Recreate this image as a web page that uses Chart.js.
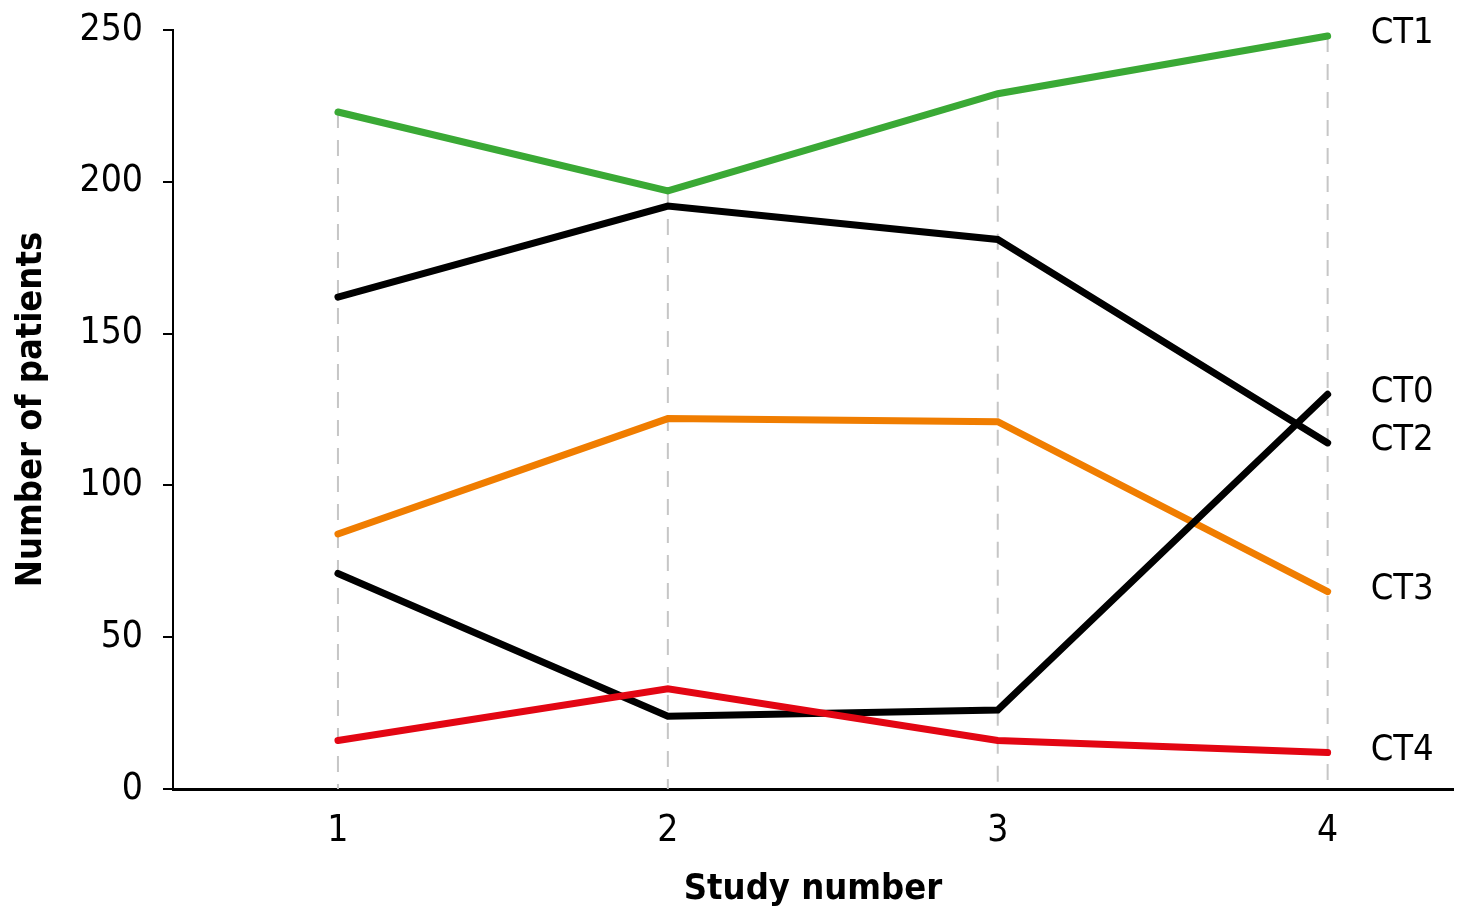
<!DOCTYPE html>
<html>
<head>
<meta charset="utf-8">
<script src="https://cdn.jsdelivr.net/npm/chart.js@4/dist/chart.umd.min.js"></script>
<style>
  html, body { margin: 0; padding: 0; background: #fff; }
  #wrap { width: 1467px; height: 915px; }
</style>
</head>
<body>
<div id="wrap"><canvas id="myChart" width="1467" height="915"></canvas></div>
<script>
const studies = [1, 2, 3, 4];
const yTicks = [0, 50, 100, 150, 200, 250];
const seriesNames = ['CT4', 'CT0', 'CT2', 'CT3', 'CT1'];
const ct1 = [223, 197, 229, 248];
const ct2 = [162, 192, 181, 114];
const ct0 = [71, 24, 26, 130];
const ct3 = [84, 122, 121, 65];
const ct4 = [16, 33, 16, 12];
const seriesColors = ['#e30613', '#000000', '#000000', '#f07d00', '#3aa935'];

const font = '"DejaVu Sans Condensed", "Liberation Sans Narrow", "Noto Sans", sans-serif';
const seriesValues = [ct4, ct0, ct2, ct3, ct1];

function toPoints(values) {
  return values.map((v, i) => ({ x: studies[i], y: v }));
}

// dashed drop line from the highest point of each study down to the axis
const dropLines = {
  id: 'dropLines',
  beforeDatasetsDraw(chart) {
    const { ctx, scales } = chart;
    ctx.save();
    ctx.strokeStyle = '#c6c6c6';
    ctx.lineWidth = 2;
    ctx.setLineDash([16, 12]);
    studies.forEach((s, i) => {
      const top = Math.max(...seriesValues.map((vals) => vals[i]));
      const x = scales.x.getPixelForValue(s);
      ctx.beginPath();
      ctx.moveTo(x, scales.y.getPixelForValue(top));
      ctx.lineTo(x, scales.y.getPixelForValue(0));
      ctx.stroke();
    });
    ctx.restore();
  },
};

// series names next to the last point
const endLabels = {
  id: 'endLabels',
  afterDatasetsDraw(chart) {
    const { ctx, scales } = chart;
    ctx.save();
    ctx.font = '36px ' + font;
    ctx.fillStyle = '#000';
    ctx.textAlign = 'left';
    ctx.textBaseline = 'middle';
    seriesNames.forEach((name, i) => {
      const vals = seriesValues[i];
      const last = vals[vals.length - 1];
      const x = scales.x.getPixelForValue(studies[studies.length - 1]) + 43;
      const y = scales.y.getPixelForValue(last) - 2;
      ctx.fillText(name, x, y);
    });
    ctx.restore();
  },
};

const datasets = seriesNames.map((name, i) => ({
  label: name,
  data: toPoints(seriesValues[i]),
  borderColor: seriesColors[i],
  backgroundColor: seriesColors[i],
  borderWidth: 7,
  borderCapStyle: 'round',
  borderJoinStyle: 'miter',
  pointRadius: 0,
  tension: 0,
  fill: false,
  order: i,
}));

const myChart = new Chart(document.getElementById('myChart'), {
  type: 'line',
  data: { datasets: datasets },
  options: {
    responsive: false,
    animation: false,
    devicePixelRatio: 1,
    layout: { padding: { top: 30, right: 14, left: 0, bottom: 0 } },
    plugins: {
      legend: { display: false },
      tooltip: { enabled: false },
    },
    scales: {
      x: {
        type: 'linear',
        min: 0.5,
        max: 4.38,
        afterBuildTicks: (scale) => {
          scale.ticks = studies.map((v) => ({ value: v }));
        },
        afterFit: (scale) => {
          scale.height = 126;
          scale.paddingLeft = 0;
          scale.paddingRight = 0;
        },
        grid: { display: false, drawTicks: false },
        border: { display: true, color: '#000', width: 3 },
        ticks: {
          color: '#000',
          padding: 20,
          font: { family: font, size: 37 },
          maxRotation: 0,
          autoSkip: false,
        },
        title: {
          display: true,
          text: 'Study number',
          color: '#000',
          font: { family: font, size: 36, weight: 'bold' },
          padding: { top: 10 },
        },
      },
      y: {
        min: 0,
        max: 250,
        afterBuildTicks: (scale) => {
          scale.ticks = yTicks.map((v) => ({ value: v }));
        },
        afterFit: (scale) => {
          scale.width = 173;
          scale.paddingTop = 0;
          scale.paddingBottom = 0;
        },
        grid: {
          drawOnChartArea: false,
          drawTicks: true,
          tickLength: 10,
          color: '#000',
          lineWidth: 2,
        },
        border: { display: true, color: '#000', width: 2 },
        ticks: {
          color: '#000',
          padding: 20,
          font: { family: font, size: 37 },
        },
        title: {
          display: true,
          text: 'Number of patients',
          color: '#000',
          font: { family: font, size: 36, weight: 'bold' },
          padding: { top: 10, bottom: 4 },
        },
      },
    },
  },
  plugins: [dropLines, endLabels],
});
</script>
</body>
</html>
